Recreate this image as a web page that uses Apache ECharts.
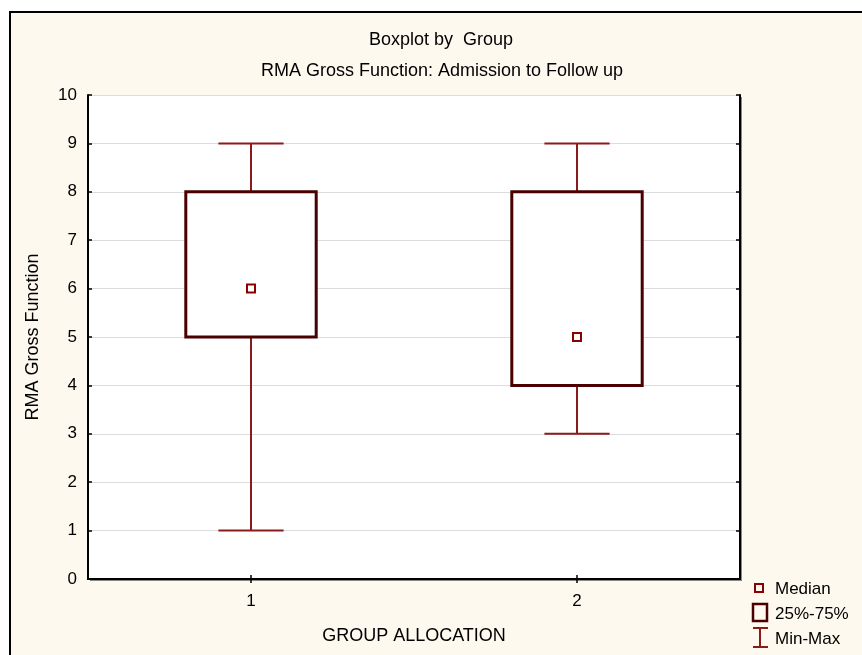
<!DOCTYPE html>
<html>
<head>
<meta charset="utf-8">
<script src="https://cdn.jsdelivr.net/npm/echarts@6/dist/echarts.min.js"></script>
<style>
html,body{margin:0;padding:0;background:#fff;}
#chart{width:862px;height:655px;}
</style>
</head>
<body>
<div id="chart"></div>
<script>
// ---- data ----
const categories = ['1', '2'];
const minValues = [1, 3];
const q1Values = [5, 4];
const medianValues = [6, 5];
const q3Values = [8, 8];
const maxValues = [9, 9];
const yTicks = [0, 1, 2, 3, 4, 5, 6, 7, 8, 9, 10];

const FONT = '"Liberation Sans", Arial, sans-serif';
const BOX_COLOR = '#4a0000';
const WHISKER_COLOR = '#8b1a1a';
const MEDIAN_COLOR = '#8b0000';

const boxData = categories.map((c, i) => [i, minValues[i], q1Values[i], medianValues[i], q3Values[i], maxValues[i]]);

const chart = echarts.init(document.getElementById('chart'), null, {renderer: 'canvas'});

function renderBox(params, api) {
  const x = api.value(0);
  const pMin = api.coord([x, api.value(1)]);
  const pQ1 = api.coord([x, api.value(2)]);
  const pMed = api.coord([x, api.value(3)]);
  const pQ3 = api.coord([x, api.value(4)]);
  const pMax = api.coord([x, api.value(5)]);
  const band = api.size([1, 0])[0];
  const boxW = band * 0.4;
  const capW = band * 0.2;
  const cx = pMed[0];
  const wStyle = {stroke: WHISKER_COLOR, lineWidth: 2, fill: null};
  return {
    type: 'group',
    children: [
      {type: 'line', shape: {x1: cx, y1: pQ3[1], x2: cx, y2: pMax[1]}, style: wStyle},
      {type: 'line', shape: {x1: cx - capW / 2, y1: pMax[1], x2: cx + capW / 2, y2: pMax[1]}, style: wStyle},
      {type: 'line', shape: {x1: cx, y1: pQ1[1], x2: cx, y2: pMin[1]}, style: wStyle},
      {type: 'line', shape: {x1: cx - capW / 2, y1: pMin[1], x2: cx + capW / 2, y2: pMin[1]}, style: wStyle},
      {type: 'rect', shape: {x: cx - boxW / 2, y: pQ3[1], width: boxW, height: pQ1[1] - pQ3[1]},
        style: {stroke: BOX_COLOR, lineWidth: 3, fill: '#ffffff'}},
      {type: 'rect', shape: {x: cx - 4, y: pMed[1] - 4, width: 8, height: 8},
        style: {stroke: MEDIAN_COLOR, lineWidth: 2, fill: '#ffffff'}}
    ]
  };
}

const option = {
  animation: false,
  backgroundColor: 'transparent',
  textStyle: {fontFamily: FONT},
  graphic: [
    {type: 'rect', z: -100, shape: {x: 10, y: 12, width: 900, height: 700},
      style: {fill: '#fdf9ef', stroke: '#000', lineWidth: 2}},
    {type: 'text', x: 441, y: 40, style: {text: 'Boxplot by  Group', font: '18px ' + FONT, fill: '#000', textAlign: 'center', textVerticalAlign: 'middle'}},
    {type: 'text', x: 442, y: 71, style: {text: 'RMA Gross Function: Admission to Follow up', font: '18px ' + FONT, fill: '#000', textAlign: 'center', textVerticalAlign: 'middle'}},
    // legend
    {type: 'rect', shape: {x: 755, y: 584, width: 8, height: 8}, style: {fill: 'none', stroke: MEDIAN_COLOR, lineWidth: 2}},
    {type: 'text', x: 775, y: 589, style: {text: 'Median', font: '17px ' + FONT, fill: '#000', textVerticalAlign: 'middle'}},
    {type: 'rect', shape: {x: 753, y: 604, width: 14, height: 17}, style: {fill: 'none', stroke: BOX_COLOR, lineWidth: 2.5}},
    {type: 'text', x: 775, y: 614, style: {text: '25%-75%', font: '17px ' + FONT, fill: '#000', textVerticalAlign: 'middle'}},
    {type: 'line', shape: {x1: 760, y1: 628, x2: 760, y2: 647}, style: {stroke: WHISKER_COLOR, lineWidth: 2}},
    {type: 'line', shape: {x1: 753, y1: 628, x2: 768, y2: 628}, style: {stroke: WHISKER_COLOR, lineWidth: 2}},
    {type: 'line', shape: {x1: 753, y1: 647, x2: 768, y2: 647}, style: {stroke: WHISKER_COLOR, lineWidth: 2}},
    {type: 'text', x: 775, y: 639, style: {text: 'Min-Max', font: '17px ' + FONT, fill: '#000', textVerticalAlign: 'middle'}}
  ],
  grid: {
    left: 88, top: 95, right: 122, bottom: 76,
    show: true, backgroundColor: '#ffffff', borderWidth: 0,
    shadowColor: 'rgba(0,0,0,0.45)', shadowBlur: 0, shadowOffsetX: 2, shadowOffsetY: 2
  },
  xAxis: [
    {
      type: 'category', data: categories, position: 'bottom',
      name: 'GROUP ALLOCATION', nameLocation: 'middle', nameGap: 48,
      nameTextStyle: {fontSize: 18, color: '#000', fontFamily: FONT},
      axisLine: {show: true, lineStyle: {color: '#000', width: 2}},
      axisTick: {show: true, inside: true, alignWithLabel: true, length: 4, lineStyle: {color: '#000', width: 1.5}},
      axisLabel: {fontSize: 17, color: '#000', margin: 14, fontFamily: FONT},
      splitLine: {show: false}
    },
    {
      type: 'category', data: categories, position: 'top',
      axisLine: {show: true, lineStyle: {color: '#000', width: 2}},
      axisTick: {show: true, inside: true, alignWithLabel: true, length: 4, lineStyle: {color: '#000', width: 1.5}},
      axisLabel: {show: false},
      splitLine: {show: false}
    }
  ],
  yAxis: [
    {
      type: 'value', min: yTicks[0], max: yTicks[yTicks.length - 1], interval: 1, position: 'left',
      name: 'RMA Gross Function', nameLocation: 'middle', nameGap: 46, nameRotate: 90,
      nameTextStyle: {fontSize: 18, color: '#000', fontFamily: FONT},
      axisLine: {show: true, lineStyle: {color: '#000', width: 2}},
      axisTick: {show: true, inside: true, length: 4, lineStyle: {color: '#000', width: 1.5}},
      axisLabel: {fontSize: 17, color: '#000', margin: 11, fontFamily: FONT},
      splitLine: {show: true, lineStyle: {color: '#dcdcdc', width: 1}}
    },
    {
      type: 'value', min: yTicks[0], max: yTicks[yTicks.length - 1], interval: 1, position: 'right',
      axisLine: {show: true, lineStyle: {color: '#000', width: 2}},
      axisTick: {show: true, inside: true, length: 4, lineStyle: {color: '#000', width: 1.5}},
      axisLabel: {show: false},
      splitLine: {show: false}
    }
  ],
  series: [
    {
      type: 'custom', name: 'Boxplot', xAxisIndex: 0, yAxisIndex: 0,
      data: boxData,
      encode: {x: 0, y: [1, 2, 3, 4, 5]},
      renderItem: renderBox,
      z: 5
    }
  ]
};
chart.setOption(option);
</script>
</body>
</html>
